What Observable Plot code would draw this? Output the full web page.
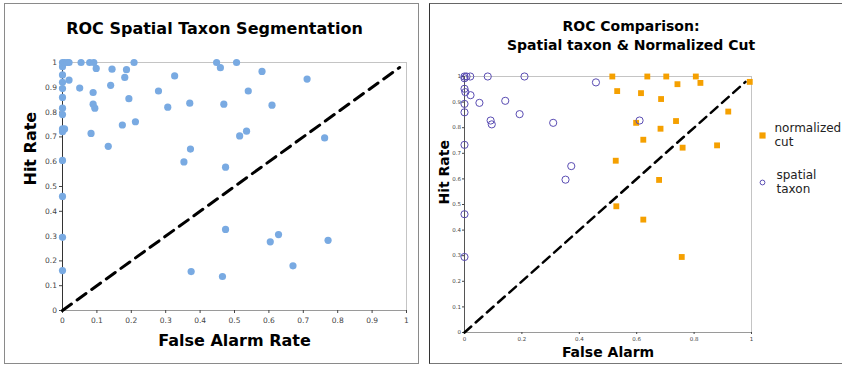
<!DOCTYPE html>
<html><head><meta charset="utf-8">
<script src="https://cdn.jsdelivr.net/npm/d3@7"></script>
<script src="https://cdn.jsdelivr.net/npm/@observablehq/plot@0.6"></script>
<style>
body{margin:0;background:#fff;}
#wrap{position:relative;width:842px;height:365px;overflow:hidden;font-family:"DejaVu Sans",Verdana,sans-serif;background:#fff;}
.panel{position:absolute;top:0;}
.box{position:absolute;box-sizing:border-box;}
</style></head><body><div id="wrap"></div>
<script>
// ---- Left panel: ROC Spatial Taxon Segmentation ----
const leftFA = [0,0,0,0,0,0,0,0,0,0,0,0,0,0,
  0.006,0.014,0.019,0.006,0.019,
  0.054,0.079,0.091,0.098,0.050,0.089,0.089,0.094,0.083,0.133,0.144,0.140,0.174,0.181,0.186,0.193,0.212,0.208,
  0.279,0.306,0.326,0.370,0.372,0.353,0.448,0.459,0.506,0.580,0.711,0.540,0.469,0.609,0.515,0.535,0.762,0.474,
  0.374,0.465,0.474,0.604,0.628,0.670,0.772];
const leftHR = [1,0.983,0.95,0.92,0.895,0.859,0.816,0.79,0.732,0.721,0.605,0.46,0.295,0.161,
  1,1,1,0.732,0.929,
  1,1,1,0.976,0.897,0.879,0.832,0.816,0.714,0.662,0.973,0.908,0.748,0.94,0.971,0.854,0.761,1,
  0.885,0.82,0.946,0.836,0.651,0.599,1,0.979,1,0.964,0.933,0.885,0.832,0.828,0.704,0.723,0.696,0.578,
  0.157,0.137,0.327,0.277,0.306,0.180,0.283];

// ---- Right panel: ROC Comparison ----
const taxonFA = [0,0.007,0.02,0.081,0.209,0,0,0.003,0.021,0,0,0.052,0.091,0.095,0.142,0.192,0.309,0.458,0,0.372,0.352,0,0,0.61];
const taxonHR = [1,1,1,1,1,0.993,0.952,0.939,0.927,0.893,0.86,0.897,0.828,0.813,0.905,0.853,0.819,0.977,0.733,0.65,0.597,0.462,0.295,0.828];
const ncutFA = [0.515,0.637,0.703,0.806,0.742,0.822,0.994,0.532,0.615,0.685,0.919,0.598,0.737,0.683,0.623,0.760,0.880,0.527,0.678,0.529,0.623,0.757];
const ncutHR = [1,1,1,1,0.970,0.975,0.979,0.943,0.935,0.912,0.863,0.819,0.826,0.796,0.753,0.722,0.731,0.671,0.596,0.493,0.441,0.295];

// chance diagonal (as drawn, slightly short of 1,1)
const diagLeft = [0, 0.98];
const diagRight = [0, 0.979];

// ticks
const leftTicks = [0,0.1,0.2,0.3,0.4,0.5,0.6,0.7,0.8,0.9,1];
const rightXTicks = [0,0.2,0.4,0.6,0.8,1];
const rightYTicks = [0,0.1,0.2,0.3,0.4,0.5,0.6,0.7,0.8,0.9,1];

const titleLeft = "ROC Spatial Taxon Segmentation";
const titleRight = "ROC Comparison:\nSpatial taxon & Normalized Cut";
const legendLabels = ["normalized\ncut", "spatial\ntaxon"];

const fmt = d => String(+d.toFixed(1));
const FONT = "DejaVu Sans, Verdana, sans-serif";

const leftData = leftFA.map((x, i) => ({x, y: leftHR[i]}));
const taxonData = taxonFA.map((x, i) => ({x, y: taxonHR[i]}));
const ncutData = ncutFA.map((x, i) => ({x, y: ncutHR[i]}));

const left = Plot.plot({
  width: 420, height: 365,
  marginLeft: 62, marginRight: 14, marginTop: 62, marginBottom: 55,
  x: {domain: [0, 1]}, y: {domain: [0, 1]},
  style: {fontFamily: FONT, background: "transparent", overflow: "visible"},
  marks: [
    Plot.ruleY([1], {stroke: "#c4c4c4"}),
    Plot.ruleX([1], {stroke: "#c4c4c4"}),
    Plot.ruleY([0], {stroke: "#9a9a9a"}),
    Plot.ruleX([0], {stroke: "#333"}),
    Plot.axisX({ticks: leftTicks, tickFormat: fmt, tickSize: 3, tickPadding: 4, fontSize: 7.5, color: "#444", label: null}),
    Plot.axisY({ticks: leftTicks, tickFormat: fmt, tickSize: 3, tickPadding: 2.5, fontSize: 7.5, color: "#444", label: null}),
    Plot.line(diagLeft, {x: d => d, y: d => d, stroke: "#000", strokeWidth: 3, strokeDasharray: "11,7"}),
    Plot.dot(leftData, {x: "x", y: "y", r: 3.6, fill: "#79aae2", stroke: "none"}),
    Plot.text([titleLeft], {frameAnchor: "top", lineAnchor: "middle", dx: -20, dy: -34, fontSize: 16, fontWeight: "bold", fill: "#000"}),
    Plot.text(["Hit Rate"], {frameAnchor: "left", lineAnchor: "middle", dx: -32, dy: -1, rotate: -90, fontSize: 16, fontWeight: "bold", fill: "#000"}),
    Plot.text(["False Alarm Rate"], {frameAnchor: "bottom", lineAnchor: "middle", dx: 0, dy: 30, fontSize: 16, fontWeight: "bold", fill: "#000"})
  ]
});

const right = Plot.plot({
  width: 422, height: 365,
  marginLeft: 44, marginRight: 91, marginTop: 76, marginBottom: 33,
  x: {domain: [0, 1]}, y: {domain: [0, 1]},
  style: {fontFamily: FONT, background: "transparent", overflow: "visible"},
  marks: [
    Plot.ruleY([1], {stroke: "#c4c4c4"}),
    Plot.ruleX([1], {stroke: "#c4c4c4"}),
    Plot.ruleY([0], {stroke: "#9a9a9a"}),
    Plot.ruleX([0], {stroke: "#555"}),
    Plot.axisX({ticks: rightXTicks, tickFormat: fmt, tickSize: 2, tickPadding: 2.5, fontSize: 5.5, color: "#444", label: null}),
    Plot.axisY({ticks: rightYTicks, tickFormat: fmt, tickSize: 2, tickPadding: 1.5, fontSize: 5.5, color: "#444", label: null}),
    Plot.line(diagRight, {x: d => d, y: d => d, stroke: "#000", strokeWidth: 2.5, strokeDasharray: "9,6"}),
    Plot.dot(ncutData, {x: "x", y: "y", symbol: "square", r: 3.3, fill: "#f5a000", stroke: "none"}),
    Plot.dot(taxonData, {x: "x", y: "y", r: 3.6, fill: "#fff", fillOpacity: 0, stroke: "#5a4db3", strokeWidth: 1}),
    Plot.text([titleRight], {frameAnchor: "top", lineAnchor: "middle", dx: 23, dy: -42.5, fontSize: 14, lineHeight: 1.36, fontWeight: "bold", fill: "#000"}),
    Plot.text(["Hit Rate"], {frameAnchor: "left", lineAnchor: "middle", dx: -20, dy: 0, rotate: -90, fontSize: 14, fontWeight: "bold", fill: "#000"}),
    Plot.text(["False Alarm"], {frameAnchor: "bottom", lineAnchor: "middle", dx: 0, dy: 20, fontSize: 14, fontWeight: "bold", fill: "#000"}),
    // legend
    Plot.dot([legendLabels[0]], {frameAnchor: "right", dx: 11, dy: -69, symbol: "square", r: 3.5, fill: "#f5a000", stroke: "none"}),
    Plot.dot([legendLabels[1]], {frameAnchor: "right", dx: 11, dy: -22, r: 2.4, fill: "none", stroke: "#5a4db3", strokeWidth: 1}),
    Plot.text([legendLabels[0]], {frameAnchor: "right", lineAnchor: "middle", dx: 23, dy: -70, textAnchor: "start", fontSize: 12, lineHeight: 1.2, fill: "#222"}),
    Plot.text([legendLabels[1]], {frameAnchor: "right", lineAnchor: "middle", dx: 25, dy: -23, textAnchor: "start", fontSize: 12, lineHeight: 1.2, fill: "#222"})
  ]
});

const wrap = document.getElementById("wrap");
function box(l, t, w, h, css) {
  const d = document.createElement("div");
  d.className = "box";
  Object.assign(d.style, {left: l + "px", top: t + "px", width: w + "px", height: h + "px"}, css);
  wrap.appendChild(d);
}
box(4, 3, 415, 361, {border: "1px solid #8a8a8a"});
box(429, 3, 414, 361, {borderTop: "1px solid #666", borderLeft: "1.5px solid #333", borderBottom: "1px solid #777", borderRight: "1px solid #999"});

left.classList.add("panel"); left.style.left = "0px";
right.classList.add("panel"); right.style.left = "420px";
wrap.appendChild(left);
wrap.appendChild(right);
</script>
</body></html>
